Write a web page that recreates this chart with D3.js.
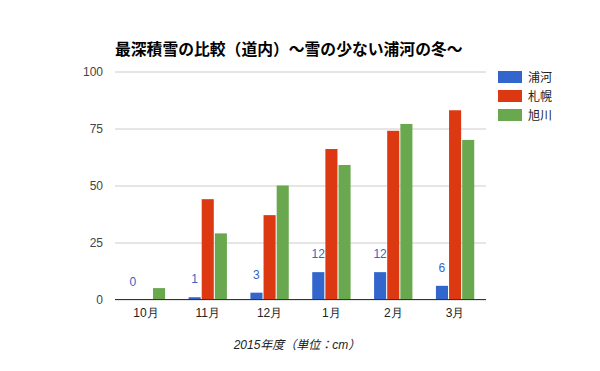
<!DOCTYPE html>
<html><head><meta charset="utf-8">
<script src="https://cdn.jsdelivr.net/npm/d3@7"></script>
<style>body{margin:0;background:#fff}svg{display:block}</style>
</head><body>
<script>
const categories = ["10月","11月","12月","1月","2月","3月"];
const seriesNames = ["浦河","札幌","旭川"];
const urakawa = [0,1,3,12,12,6];
const sapporo = [0,44,37,66,74,83];
const asahikawa = [5,29,50,59,77,70];
const yTicks = [0,25,50,75,100];
const colors = ["#3366cc","#dc3912","#6aa84f"];
const title = "最深積雪の比較（道内）～雪の少ない浦河の冬～";
const xTitle = "2015年度（単位：cm）";

const W=600,H=371;
const m={l:115};
const svg=d3.select("body").append("svg").attr("width",W).attr("height",H)
  .style("font-family","Arial, 'Liberation Sans', 'Noto Sans CJK JP', sans-serif");
const xr=486, y0=299.5, y1=71.5;
const x=d3.scaleBand().domain(categories).range([m.l,xr]).paddingInner(0.38).paddingOuter(0.19);
const xs=d3.scaleBand().domain(seriesNames).range([0,x.bandwidth()]).paddingInner(0.08);
const y=d3.scaleLinear().domain([0,100]).range([y0,y1]);
const series=[urakawa,sapporo,asahikawa];

// grid
const yAxis=d3.axisLeft(y).tickValues(yTicks).tickSize(-(xr-m.l)).tickPadding(12);
const gy=svg.append("g").attr("transform",`translate(${m.l},0)`).call(yAxis);
gy.select(".domain").remove();
gy.selectAll(".tick line").attr("stroke","#cccccc");
gy.selectAll(".tick text").attr("fill","#444").style("font-size","12px");

// bars
series.forEach((vals,si)=>{
  svg.append("g").selectAll("rect").data(vals).join("rect")
    .attr("x",(d,i)=>x(categories[i])+xs(seriesNames[si]))
    .attr("y",d=>y(d)).attr("width",xs.bandwidth())
    .attr("height",d=>y0-y(d)).attr("fill",colors[si]);
});
// labels for 浦河
svg.append("g").selectAll("text").data(urakawa).join("text")
  .attr("x",(d,i)=>x(categories[i])+xs(seriesNames[0])+xs.bandwidth()/2)
  .attr("y",d=>y(d)-14).attr("text-anchor","middle")
  .attr("fill","#3366cc").style("font-size","12px").text(d=>d);

// baseline
svg.append("line").attr("x1",m.l).attr("x2",xr).attr("y1",y0).attr("y2",y0).attr("stroke","#333");

// x axis
const xAxis=d3.axisBottom(x).tickSize(0).tickPadding(9);
const gx=svg.append("g").attr("transform",`translate(0,${y0})`).call(xAxis);
gx.select(".domain").remove();
gx.selectAll(".tick text").attr("fill","#222").style("font-size","12px");

// title
svg.append("text").attr("x",115).attr("y",55).attr("font-weight","bold")
  .style("font-size","15.8px").attr("fill","#000").text(title);
// x title
svg.append("text").attr("x",297).attr("y",349).attr("text-anchor","middle")
  .style("font-style","italic").style("font-size","12px").attr("fill","#222").text(xTitle);

// legend
const lg=svg.append("g").selectAll("g").data(seriesNames).join("g")
  .attr("transform",(d,i)=>`translate(498,${71+i*19})`);
lg.append("rect").attr("width",24).attr("height",12).attr("fill",(d,i)=>colors[i]);
lg.append("text").attr("x",30).attr("y",10.5).style("font-size","12px").attr("fill","#222").text(d=>d);
</script>
</body></html>
